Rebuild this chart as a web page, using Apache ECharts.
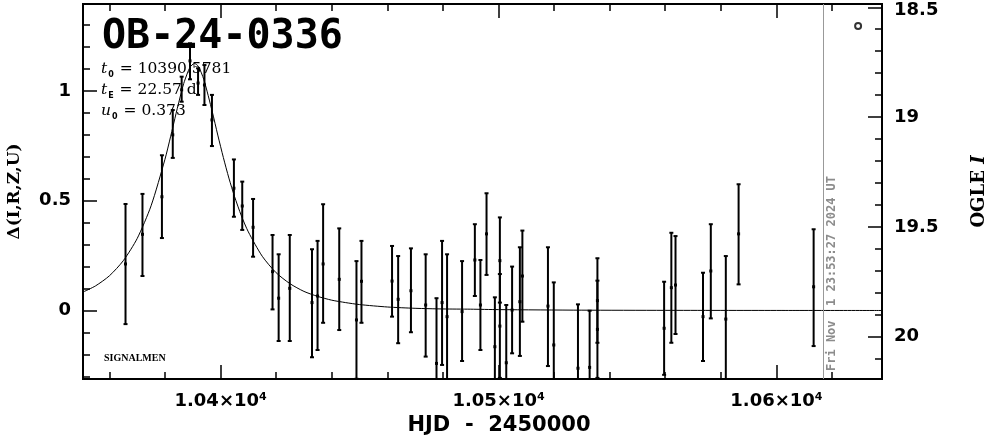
<!DOCTYPE html>
<html>
<head>
<meta charset="utf-8">
<script src="https://cdn.jsdelivr.net/npm/echarts@6/dist/echarts.min.js"></script>
<style>
html,body{margin:0;padding:0;background:#fff;}
#chart{width:986px;height:437px;}
</style>
</head>
<body>
<div id="chart"></div>
<script>
// ---------- data ----------
const obsHJD   = [10365.8,10371.9,10378.9,10382.8,10386.0,10389.0,10391.9,10394.2,10396.9,10404.8,10407.8,10411.7,10418.7,10420.9,10424.9,10432.9,10434.9,10436.9,10442.7,10448.9,10450.7,10461.7,10463.9,10468.5,10473.8,10477.7,10479.7,10481.5,10486.9,10491.5,10493.5,10495.7,10498.7,10500.5,10500.5,10502.8,10504.9,10507.7,10508.6,10517.8,10519.9,10528.6,10532.8,10535.6,10535.6,10559.6,10562.2,10563.7,10573.6,10576.4,10581.8,10586.4,10613.4];
const obsDelta = [0.212,0.347,0.518,0.800,1.005,1.137,1.036,1.027,0.868,0.557,0.476,0.379,0.177,0.056,0.101,0.036,0.066,0.212,0.142,-0.043,0.133,0.134,0.051,0.090,0.025,-0.241,0.036,-0.028,-0.005,0.230,0.025,0.349,-0.165,0.227,-0.071,-0.238,0.002,0.040,0.157,0.020,-0.157,-0.263,-0.259,0.045,-0.086,-0.081,0.104,0.116,-0.028,0.180,-0.039,0.349,0.108];
const obsLow   = [-0.062,0.157,0.330,0.695,0.951,1.053,0.982,0.936,0.749,0.427,0.367,0.245,0.005,-0.139,-0.139,-0.213,-0.180,-0.056,-0.089,-0.311,-0.056,-0.028,-0.149,-0.099,-0.210,-0.538,-0.248,-0.312,-0.230,0.066,-0.180,0.162,-0.390,0.036,-0.307,-0.500,-0.195,-0.207,-0.051,-0.253,-0.440,-0.550,-0.520,-0.147,-0.307,-0.293,-0.147,-0.107,-0.230,-0.036,-0.326,0.119,-0.162];
const obsHigh  = [0.485,0.531,0.707,0.913,1.065,1.217,1.103,1.118,0.982,0.688,0.587,0.508,0.344,0.256,0.344,0.279,0.317,0.484,0.374,0.225,0.317,0.294,0.248,0.283,0.256,0.056,0.317,0.256,0.225,0.393,0.230,0.534,0.060,0.424,0.166,0.025,0.200,0.288,0.364,0.288,0.128,0.028,-0.001,0.238,0.136,0.131,0.354,0.339,0.172,0.393,0.248,0.575,0.370];

const curveHJD   = [10350.5,10355,10360,10365,10370,10375,10380,10382,10384,10386,10387,10389,10390.6,10392,10394,10397,10399,10401,10403,10405,10407.5,10410,10415,10420,10425,10430,10435,10440,10445,10450,10460,10470,10480,10490,10500,10530,10560,10600,10638];
const curveDelta = [0.084,0.112,0.158,0.227,0.328,0.477,0.689,0.791,0.898,1.000,1.044,1.108,1.125,1.112,1.051,0.906,0.799,0.697,0.603,0.520,0.431,0.358,0.247,0.172,0.122,0.087,0.064,0.047,0.036,0.027,0.016,0.010,0.007,0.006,0.004,0.0015,0.0007,0.0003,0.0001];

const nowHJD = 10616.8;
const markerHJD = [10629.4];
const markerDelta = [1.296];

const xTickValues = [10400,10500,10600];
const xTickMant = ['1.04×10','1.05×10','1.06×10'];
const xTickExp = ['4','4','4'];
const xMinorTicks = [10360,10380,10420,10440,10460,10480,10520,10540,10560,10580,10620];

const yTickValues = [0,0.5,1];
const yTickLabels = ['0','0.5','1'];
const yMinorTicks = [-0.3,-0.2,-0.1,0.1,0.2,0.3,0.4,0.6,0.7,0.8,0.9,1.1,1.2,1.3];

const magTickValues = [18.5,19,19.5,20];
const magTickLabels = ['18.5','19','19.5','20'];
const magMinorTicks = [18.6,18.7,18.8,18.9,19.1,19.2,19.3,19.4,19.6,19.7,19.8,19.9,20.1];

const titleText = 'OB-24-0336';
const paramLines = [['t','0',' = 10390.5781'],['t','E',' = 22.57 d'],['u','0',' = 0.373']];
const dateText = 'Fri Nov  1 23:53:27 2024 UT';
const xName = 'HJD  -  2450000';

// axis ranges
const xMin = 10350.5, xMax = 10638;
const yMin = -0.312, yMax = 1.396;
const magZero = 19.881; // I at delta = 0
const magMin = magZero - yMax, magMax = magZero - yMin;

// ---------- chart ----------
const chart = echarts.init(document.getElementById('chart'), null, {renderer:'canvas'});
const tickFont = 'DejaVu Sans';
const black = '#000';

function xAx(pos, major, withLabel){
  return {
    type:'value', position:pos, min:xMin, max:xMax,
    axisLine:{show:true, onZero:false, lineStyle:{color:black, width:2}},
    axisTick:{show:true, inside:true, length: major?14:7, lineStyle:{color:black,width:1.5},
      customValues: major?xTickValues:xMinorTicks},
    axisLabel: withLabel ? {
      show:true, margin:13, customValues:xTickValues,
      formatter:(v)=>{const i=xTickValues.indexOf(v); return '{m|'+xTickMant[i]+'}{e|'+xTickExp[i]+'}';},
      rich:{
        m:{fontFamily:tickFont, fontSize:18, fontWeight:'bold', color:black},
        e:{fontFamily:tickFont, fontSize:11, fontWeight:'bold', color:black, verticalAlign:'top'}
      }
    } : {show:false},
    splitLine:{show:false}
  };
}
function yAx(pos, major, vals, minorVals, labels, mn, mx, inverse, withLabel, name, nameGap){
  const lab = {fontFamily:tickFont, fontSize:18, fontWeight:'bold', color:black};
  return {
    type:'value', position:pos, min:mn, max:mx, inverse:inverse,
    axisLine:{show:true, onZero:false, lineStyle:{color:black, width:2}},
    axisTick:{show:true, inside:true, length: major?14:7, lineStyle:{color:black,width:1.5},
      customValues: major?vals:minorVals},
    axisLabel: withLabel ? Object.assign({
      show:true, margin:12, customValues:vals,
      formatter:(v)=>{
        let i=vals.findIndex(t=>Math.abs(t-v)<1e-6);
        if(i<0) return '';
        const atEdge = (inverse ? Math.abs(v-mn) : Math.abs(mx-v)) < (mx-mn)*0.02;
        return atEdge ? '{t|'+labels[i]+'}' : labels[i];
      },
      rich:{t:Object.assign({padding:[6,0,0,0]}, lab)}
    }, lab) : {show:false},
    splitLine:{show:false},
    name: name||'', nameLocation:'middle', nameGap:nameGap||0, nameRotate:90,
    nameTextStyle:{
      color:black, fontFamily:'DejaVu Serif', fontSize:17, fontWeight:'bold',
      rich:{n:{fontFamily:'DejaVu Serif', fontSize:18, fontWeight:'bold', color:black},
            i:{fontFamily:'DejaVu Serif', fontSize:18, fontWeight:'bold', fontStyle:'italic', color:black}}
    }
  };
}

const obsData = obsHJD.map((x,i)=>[x, obsDelta[i], obsLow[i], obsHigh[i]]);
const curveData = curveHJD.map((x,i)=>[x, curveDelta[i]]);

const option = {
  animation:false,
  backgroundColor:'#fff',
  grid:{left:83, right:104, top:4, bottom:58, containLabel:false, outerBoundsMode:'none'},
  xAxis:[ xAx('bottom',true,true), xAx('bottom',false,false), xAx('top',true,false), xAx('top',false,false) ],
  yAxis:[
    yAx('left',true,yTickValues,yMinorTicks,yTickLabels,yMin,yMax,false,true,'Δ(I,R,Z,U)',60),
    yAx('left',false,yTickValues,yMinorTicks,yTickLabels,yMin,yMax,false,false),
    yAx('right',true,magTickValues,magMinorTicks,magTickLabels,magMin,magMax,true,true,'{n|OGLE }{i|I}',88),
    yAx('right',false,magTickValues,magMinorTicks,magTickLabels,magMin,magMax,true,false)
  ],
  series:[
    {
      type:'line', xAxisIndex:0, yAxisIndex:0, data:curveData,
      showSymbol:false, smooth:0.25, clip:true,
      lineStyle:{color:black, width:1},
      markLine:{silent:true, symbol:'none', label:{show:false},
        lineStyle:{color:'#999', width:1, type:'solid'},
        data:[{xAxis:nowHJD}]}
    },
    {
      type:'custom', xAxisIndex:0, yAxisIndex:0, data:obsData, clip:true,
      encode:{x:0, y:[1,2,3]},
      renderItem:(params, api)=>{
        const x=api.value(0), c=api.value(1), lo=api.value(2), hi=api.value(3);
        const pH=api.coord([x,hi]), pL=api.coord([x,lo]), pC=api.coord([x,c]);
        const st={stroke:black, lineWidth:2};
        return {type:'group', children:[
          {type:'line', shape:{x1:pH[0],y1:pH[1],x2:pL[0],y2:pL[1]}, style:st},
          {type:'line', shape:{x1:pH[0]-2,y1:pH[1],x2:pH[0]+2,y2:pH[1]}, style:st},
          {type:'line', shape:{x1:pL[0]-2,y1:pL[1],x2:pL[0]+2,y2:pL[1]}, style:st},
          {type:'rect', shape:{x:pC[0]-1.5,y:pC[1]-1.5,width:3,height:3}, style:{fill:black}}
        ]};
      }
    },
    {
      type:'scatter', xAxisIndex:0, yAxisIndex:0,
      data: markerHJD.map((x,i)=>[x, markerDelta[i]]),
      symbol:'circle', symbolSize:6,
      itemStyle:{color:'#fff', borderColor:black, borderWidth:2}
    }
  ],
  graphic:[
    {type:'text', left:102, top:18, style:{text:titleText, font:'bold 40px "DejaVu Sans Mono"', fill:black}},
    {type:'text', left:101, top:58, style:{
      text: paramLines.map(l=>'{i|'+l[0]+'}{s|'+l[1]+'}{n|'+l[2]+'}').join('\n'),
      lineHeight:21,
      rich:{
        i:{font:'italic 15.5px "DejaVu Serif"', fill:black, lineHeight:21},
        s:{font:'bold 8px "DejaVu Sans"', fill:black, lineHeight:21, verticalAlign:'bottom', padding:[6,1,0,1]},
        n:{font:'15.5px "DejaVu Serif"', fill:black, lineHeight:21}
      }}},
    {type:'text', left:104, top:353, style:{text:'SIGNALMEN', font:'bold 10px "Liberation Serif"', fill:black}},
    {type:'text', x:838, y:371, rotation:Math.PI/2, style:{text:dateText, font:'bold 12px "DejaVu Sans Mono"', fill:'#8c8c8c', textAlign:'left', textVerticalAlign:'bottom'}},
    {type:'text', x:499, y:426, style:{text:xName, font:'bold 21px "DejaVu Sans"', fill:black, textAlign:'center', textVerticalAlign:'middle'}}
  ]
};
chart.setOption(option);
</script>
</body>
</html>
